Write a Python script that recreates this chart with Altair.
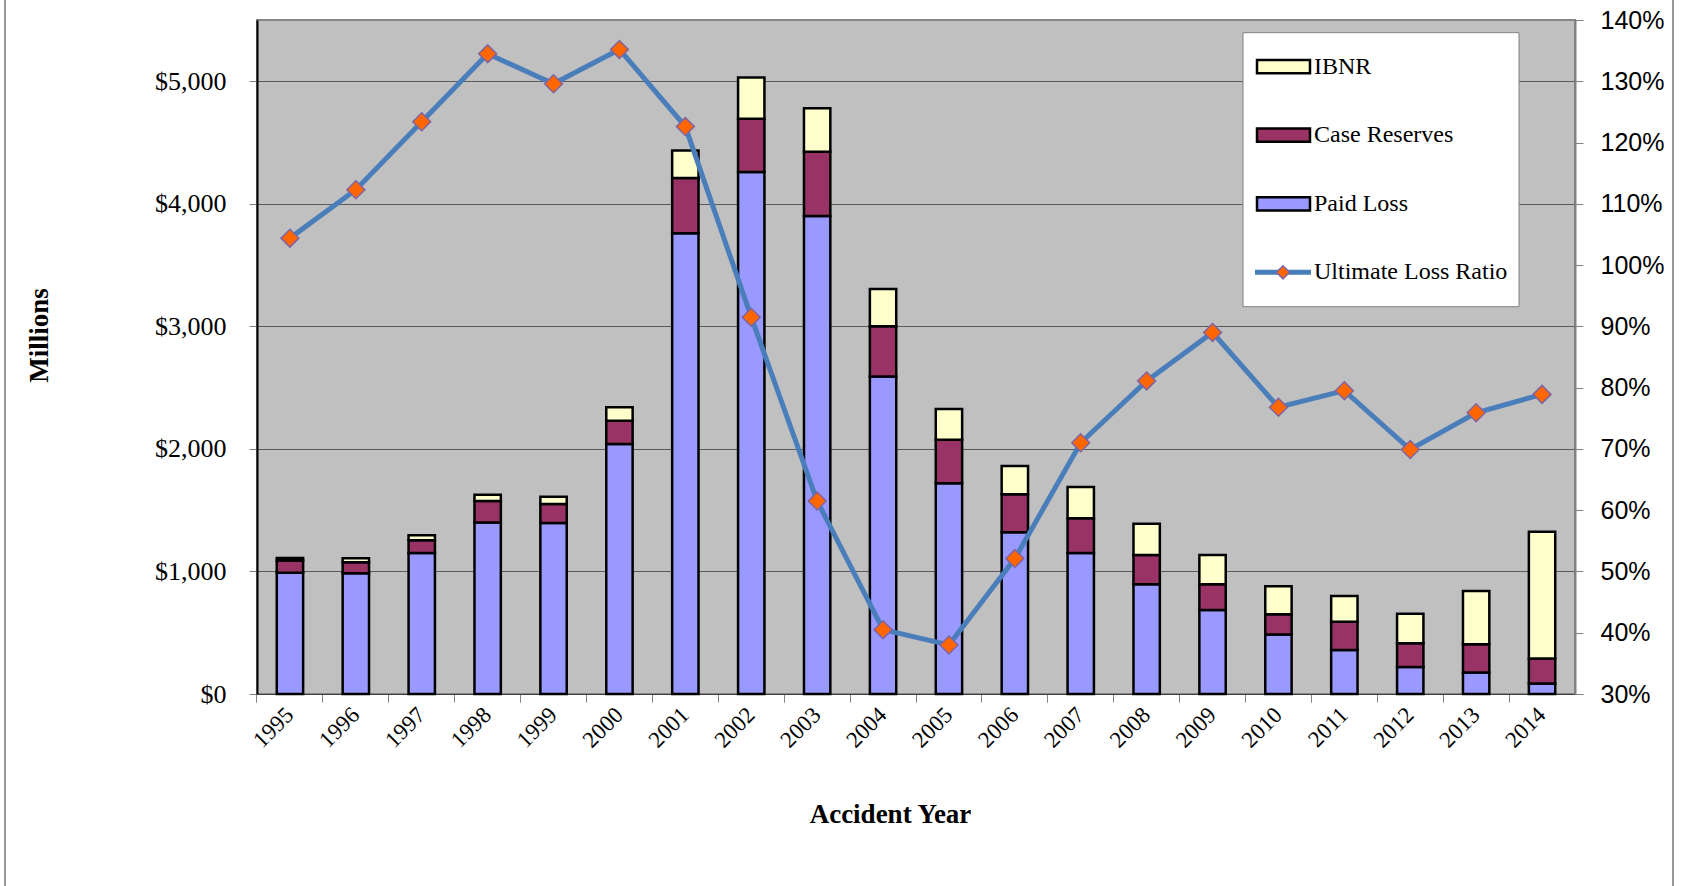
import altair as alt
import pandas as pd

years = list(range(1995, 2015))
paid = [990, 985, 1150, 1400, 1395, 2040, 3760, 4260, 3900, 2590, 1720, 1320, 1150, 895, 685, 485, 360, 220, 175, 85]
case_res = [100, 90, 105, 175, 155, 190, 450, 435, 525, 410, 355, 310, 285, 240, 210, 165, 230, 195, 230, 205]
ibnr = [20, 32, 40, 50, 60, 110, 225, 335, 355, 305, 250, 230, 255, 255, 240, 230, 210, 240, 435, 1035]
loss_ratio = [1.044, 1.123, 1.234, 1.345, 1.296, 1.352, 1.226, 0.915, 0.615, 0.405, 0.380, 0.521,
              0.710, 0.811, 0.890, 0.768, 0.795, 0.699, 0.759, 0.789]

series_names = ["Paid Loss", "Case Reserves", "IBNR"]
series_colors = ["#9999FF", "#993366", "#FFFFCC"]
legend_labels = ["IBNR", "Case Reserves", "Paid Loss", "Ultimate Loss Ratio"]
legend_kinds = ["bar", "bar", "bar", "line"]
left_ticks = [0, 1000, 2000, 3000, 4000, 5000]
right_ticks = [0.3, 0.4, 0.5, 0.6, 0.7, 0.8, 0.9, 1.0, 1.1, 1.2, 1.3, 1.4]

rows = []
for i, y in enumerate(years):
    for k, (name, vals) in enumerate(zip(series_names, [paid, case_res, ibnr])):
        rows.append({"year": y, "series": name, "value": vals[i], "ord": k})
bar_df = pd.DataFrame(rows)
line_df = pd.DataFrame({"year": years, "ratio": loss_ratio})
legend_df = pd.DataFrame({"label": legend_labels, "kind": legend_kinds})
one_df = pd.DataFrame({"a": [0]})

SERIF = "Liberation Serif"
SANS = "Liberation Sans"

color_scale = alt.Scale(domain=series_names, range=series_colors)

x_enc = alt.X(
    "year:O",
    scale=alt.Scale(paddingInner=0.6, paddingOuter=0.3),
    axis=alt.Axis(
        title="Accident Year", titleFont=SERIF, titleFontSize=27, titleFontWeight="bold",
        titleColor="black", titleX=633, titleY=128, titleAlign="center", titleBaseline="alphabetic",
        labelAngle=-45, labelAlign="right", labelBaseline="middle", labelFont=SERIF,
        labelFontSize=23, labelColor="black", labelPadding=9, bandPosition=-0.75,
        tickSize=8, tickColor="#808080", tickWidth=1, domainColor="#404040", domainWidth=1,
        grid=False,
    ),
)

bars = alt.Chart(bar_df).mark_bar(stroke="black", strokeWidth=2.5).encode(
    x=x_enc,
    y=alt.Y(
        "value:Q", stack="zero",
        scale=alt.Scale(domain=[0, 5500], nice=False, zero=True),
        axis=alt.Axis(
            values=left_ticks, format="$,.0f", title="Millions", titleFont=SERIF,
            titleFontSize=27, titleFontWeight="bold", titleColor="black",
            titleX=-218, titleY=315, titleAngle=270, titleAlign="center", titleBaseline="middle",
            labelFont=SERIF, labelFontSize=26, labelColor="black", labelPadding=23,
            tickSize=8, tickColor="#808080", domainColor="black", domainWidth=2,
            grid=True, gridColor="#5A5A5A", gridWidth=1,
        ),
    ),
    color=alt.Color("series:N", scale=color_scale, legend=None),
    order=alt.Order("ord:Q"),
)

line = alt.Chart(line_df).mark_line(
    color="#4A7EBB", strokeWidth=5,
    point=alt.OverlayMarkDef(shape="diamond", filled=True, fill="#FF6600", stroke="#8064A2",
                             strokeWidth=1.5, size=320, opacity=1),
).encode(
    x=alt.X("year:O"),
    y=alt.Y(
        "ratio:Q",
        scale=alt.Scale(domain=[0.3, 1.4], nice=False, zero=False),
        axis=alt.Axis(
            orient="right", values=right_ticks, format=".0%", title=None,
            labelFont=SANS, labelFontSize=25, labelColor="black", labelPadding=17,
            tickSize=8, tickColor="#808080", domainColor="#808080", domainWidth=2, grid=False,
        ),
    ),
)

ysc = alt.Scale(type="point", domain=legend_labels, range=[46.7, 252.3], padding=0)

legend_box = alt.Chart(one_df).mark_rect(fill="white", stroke="#808080", strokeWidth=1).encode(
    x=alt.value(986), x2=alt.value(1262), y=alt.value(12.7), y2=alt.value(286.7)
)

swatches = alt.Chart(legend_df).transform_filter("datum.kind == 'bar'").mark_point(
    shape="M-2,-0.5H2V0.5H-2Z", size=702, filled=True, stroke="black", strokeWidth=2.5, opacity=1
).encode(
    x=alt.value(1026.5),
    y=alt.Y("label:N", scale=ysc, axis=None),
    color=alt.Color("label:N", scale=color_scale, legend=None),
)

legend_line = alt.Chart(legend_df).transform_filter("datum.kind == 'line'").mark_rule(
    color="#4A7EBB", strokeWidth=5
).encode(
    x=alt.value(998), x2=alt.value(1054),
    y=alt.Y("label:N", scale=ysc, axis=None),
)

legend_diamond = alt.Chart(legend_df).transform_filter("datum.kind == 'line'").mark_point(
    shape="diamond", filled=True, fill="#FF6600", stroke="#8064A2", strokeWidth=1.5, size=170, opacity=1
).encode(
    x=alt.value(1026),
    y=alt.Y("label:N", scale=ysc, axis=None),
)

legend_text = alt.Chart(legend_df).mark_text(
    align="left", baseline="middle", font=SERIF, fontSize=24, color="black"
).encode(
    x=alt.value(1057),
    y=alt.Y("label:N", scale=ysc, axis=None),
    text="label:N",
)

frame_left = alt.Chart(one_df).mark_rule(color="#9A9A9A", strokeWidth=2).encode(
    x=alt.value(-252), y=alt.value(-20), y2=alt.value(866)
)
frame_right = alt.Chart(one_df).mark_rule(color="#9A9A9A", strokeWidth=2).encode(
    x=alt.value(1416), y=alt.value(-20), y2=alt.value(866)
)

chart = alt.layer(
    bars, line, legend_box, swatches, legend_line, legend_diamond, legend_text, frame_left, frame_right
).resolve_scale(
    y="independent"
).properties(
    width=1318, height=674,
    padding={"left": 257, "top": 20, "right": 106, "bottom": 192},
    autosize=alt.AutoSizeParams(type="none"),
    background="white",
).configure_view(
    fill="#C0C0C0", stroke="#868686", strokeWidth=2
)

chart.save("out.html", embed_options={"renderer": "svg", "actions": False})
